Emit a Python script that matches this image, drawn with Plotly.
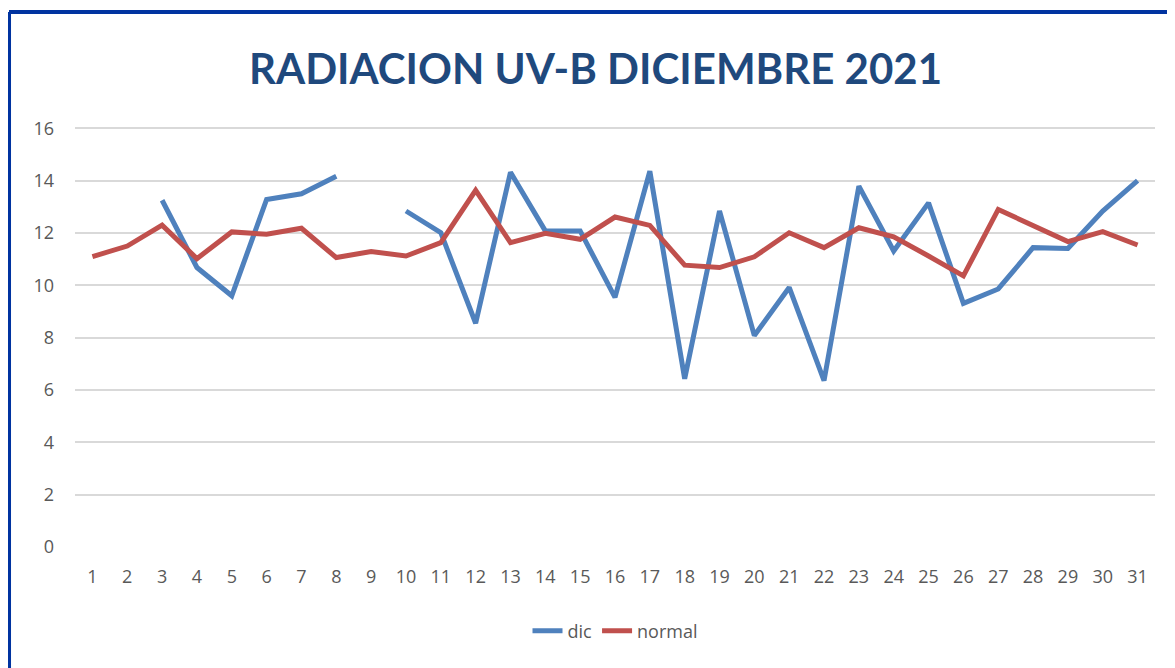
import plotly.graph_objects as go

days = list(range(1, 32))
dic = [None, None, 13.25, 10.68, 9.6, 13.28, 13.5, 14.17, None, 12.84,
       12.01, 8.55, 14.32, 12.08, 12.08, 9.54, 14.36, 6.43, 12.84, 8.08,
       9.92, 6.36, 13.79, 11.31, 13.15, 9.31, 9.86, 11.44, 11.41, 12.84, 14.0]
normal = [11.1, 11.5, 12.3, 11.02, 12.04, 11.95, 12.18, 11.06, 11.29, 11.12,
          11.63, 13.63, 11.63, 11.99, 11.76, 12.61, 12.29, 10.77, 10.68, 11.09,
          12.01, 11.44, 12.2, 11.85, 11.12, 10.36, 12.9, 12.3, 11.67, 12.05, 11.54]

fig = go.Figure()
fig.add_trace(go.Scatter(x=days, y=dic, mode="lines", name="dic",
                         line=dict(color="#4F81BD", width=5)))
fig.add_trace(go.Scatter(x=days, y=normal, mode="lines", name="normal",
                         line=dict(color="#C0504D", width=5)))

# frame: only top and left edges visible in the original
border = "#0033A0"
fig.add_shape(type="line", xref="paper", yref="paper", x0=-0.0611, x1=1.03,
              y0=1.2738, y1=1.2738, line=dict(color=border, width=4))
fig.add_shape(type="line", xref="paper", yref="paper", x0=-0.0611, x1=-0.0611,
              y0=1.2738, y1=-0.31, line=dict(color=border, width=4))

fig.update_layout(
    width=1175, height=668,
    margin=dict(l=67, r=28, t=119, b=129),
    paper_bgcolor="white", plot_bgcolor="white",
    title=dict(text="<b>RADIACION UV-B DICIEMBRE 2021</b>", x=0.5, xanchor="center",
               y=0.908, yanchor="middle",
               font=dict(family="Lato", size=42, color="#1F497D")),
    font=dict(family="Open Sans", size=18, color="#595959"),
    xaxis=dict(range=[0.5, 31.5], tickmode="array", tickvals=days,
               showgrid=False, zeroline=False, showline=False, ticks="",
               ticklabelstandoff=17),
    yaxis=dict(range=[0, 16.05], tickvals=[0, 2, 4, 6, 8, 10, 12, 14, 16],
               showgrid=True, gridcolor="#D9D9D9", gridwidth=2,
               zeroline=False, showline=False, ticks="", ticklabelstandoff=20),
    legend=dict(orientation="h", x=0.5, xanchor="center", y=-0.2, yanchor="middle",
                font=dict(size=18, color="#595959")),
)

fig.write_html("out.html")
